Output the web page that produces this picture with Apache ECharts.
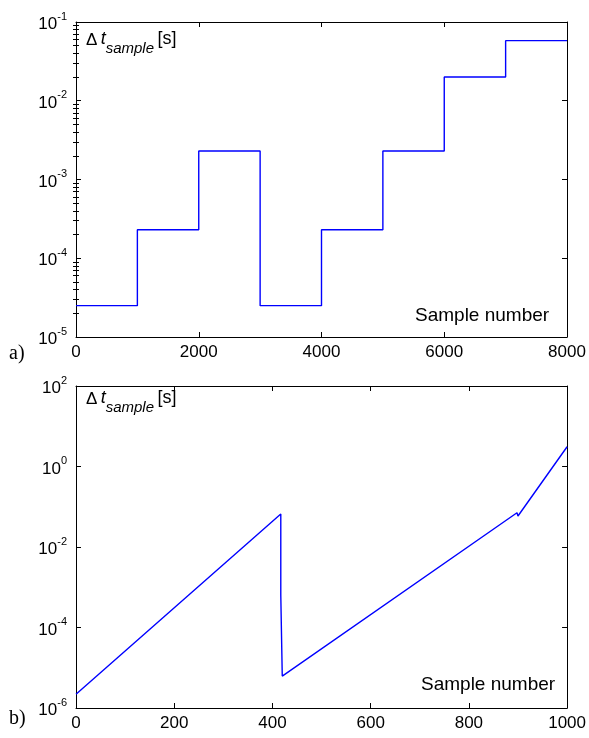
<!DOCTYPE html>
<html>
<head>
<meta charset="utf-8">
<script src="https://cdn.jsdelivr.net/npm/echarts@6/dist/echarts.min.js"></script>
<style>
  html, body { margin: 0; padding: 0; background: #fff; }
  #chart { width: 589px; height: 738px; }
</style>
</head>
<body>
<div id="chart"></div>
<script>
// Panel a) step schedule of the sampling interval
const stepSamples = [0, 1000, 2000, 3000, 4000, 5000, 6000, 7000, 8000];
const stepDt = [2.5e-5, 2.3e-4, 2.3e-3, 2.5e-5, 2.3e-4, 2.3e-3, 2.0e-2, 5.8e-2, 5.8e-2];

// Panel b) adaptive sampling interval
const adaptSamples = [0, 417, 417, 420, 420, 898, 900, 1000];
const adaptDt = [2.2e-6, 6.6e-2, 6.4e-4, 6.4e-4, 6.2e-6, 7.1e-2, 5.9e-2, 3.1];

// Axis ticks
const topDecades = [-5, -4, -3, -2];
const minorMultipliers = [2, 3, 4, 5, 6, 7, 8, 9];
const topYTicks = [1e-5, 1e-4, 1e-3, 1e-2, 1e-1];
const botYTicks = [1e-6, 1e-4, 1e-2, 1, 100];

const FONT = '"Liberation Sans", Arial, Helvetica, sans-serif';
const SERIF = '"Liberation Serif", "Times New Roman", serif';
const BLACK = '#000';

const minorTop = [];
topDecades.forEach(d => minorMultipliers.forEach(m => minorTop.push(+(m * Math.pow(10, d)).toPrecision(3))));

const expLabel = v => '{b|10}{s|' + Math.round(Math.log10(v)) + '}';
const expRich = {
  b: { fontSize: 17, fontFamily: FONT, color: BLACK, lineHeight: 22, verticalAlign: 'bottom' },
  s: { fontSize: 11, fontFamily: FONT, color: BLACK, lineHeight: 22, verticalAlign: 'top' }
};

function xAxes(grid, max, interval) {
  return [
    {
      gridIndex: grid, type: 'value', min: 0, max: max, interval: interval, position: 'bottom',
      axisLine: { show: true, onZero: false, lineStyle: { color: BLACK, width: 1 } },
      axisTick: { show: true, inside: true, length: 5, lineStyle: { color: BLACK } },
      axisLabel: { show: true, margin: 7, color: BLACK, fontSize: 17, fontFamily: FONT, formatter: v => String(v) },
      splitLine: { show: false }
    },
    {
      gridIndex: grid, type: 'value', min: 0, max: max, interval: interval, position: 'top',
      axisLine: { show: true, onZero: false, lineStyle: { color: BLACK, width: 1 } },
      axisTick: { show: true, inside: true, length: 5, lineStyle: { color: BLACK } },
      axisLabel: { show: false },
      splitLine: { show: false }
    }
  ];
}

function yAxes(grid, min, max, majors, minors) {
  const list = [
    {
      gridIndex: grid, type: 'log', logBase: 10, min: min, max: max, position: 'left',
      axisLine: { show: true, onZero: false, lineStyle: { color: BLACK, width: 1 } },
      axisTick: { show: true, inside: true, length: 5, customValues: majors, lineStyle: { color: BLACK } },
      axisLabel: { show: true, margin: 9, customValues: majors, formatter: expLabel, rich: expRich },
      splitLine: { show: false }
    },
    {
      gridIndex: grid, type: 'log', logBase: 10, min: min, max: max, position: 'right',
      axisLine: { show: true, onZero: false, lineStyle: { color: BLACK, width: 1 } },
      axisTick: { show: true, inside: true, length: 5, customValues: majors, lineStyle: { color: BLACK } },
      axisLabel: { show: false },
      splitLine: { show: false }
    }
  ];
  if (minors) {
    ['left', 'right'].forEach(pos => list.push({
      gridIndex: grid, type: 'log', logBase: 10, min: min, max: max, position: pos,
      axisLine: { show: false },
      axisTick: { show: true, inside: true, length: 3, customValues: minors, lineStyle: { color: BLACK } },
      axisLabel: { show: false },
      splitLine: { show: false }
    }));
  }
  return list;
}

const dtRich = {
  d: { fontSize: 17, fontFamily: FONT, color: BLACK, lineHeight: 26, verticalAlign: 'top', padding: [2, 0, 0, 0] },
  t: { fontSize: 18, fontFamily: FONT, fontStyle: 'italic', color: BLACK, lineHeight: 26, verticalAlign: 'top' },
  sub: { fontSize: 15, fontFamily: FONT, fontStyle: 'italic', color: BLACK, lineHeight: 26, verticalAlign: 'bottom' },
  u: { fontSize: 18, fontFamily: FONT, color: BLACK, lineHeight: 26, verticalAlign: 'top' }
};
const dtText = '{d|\u0394} {t|t}{sub|sample} {u|[s]}';

const chart = echarts.init(document.getElementById('chart'), null, { renderer: 'canvas' });

const yTop = yAxes(0, 1e-5, 1e-1, topYTicks, minorTop);
const yBot = yAxes(1, 1e-6, 1e2, botYTicks, null);

chart.setOption({
  animation: false,
  backgroundColor: '#fff',
  grid: [
    { left: 76, top: 22, width: 491, height: 315, containLabel: false },
    { left: 76, top: 386, width: 496, height: 322, containLabel: false }
  ],
  xAxis: xAxes(0, 8000, 2000).concat(xAxes(1, 1000, 200)),
  yAxis: yTop.concat(yBot),
  series: [
    {
      type: 'line', xAxisIndex: 0, yAxisIndex: 0, step: 'end', showSymbol: false,
      lineStyle: { color: '#0000ff', width: 1.4 },
      data: stepSamples.map((x, i) => [x, stepDt[i]])
    },
    {
      type: 'line', xAxisIndex: 2, yAxisIndex: yTop.length, showSymbol: false,
      lineStyle: { color: '#0000ff', width: 1.4 },
      data: adaptSamples.map((x, i) => [x, adaptDt[i]])
    }
  ],
  graphic: [
    { type: 'text', left: 86, top: 30, style: { text: dtText, rich: dtRich } },
    { type: 'text', left: 86, top: 389, style: { text: dtText, rich: dtRich } },
    { type: 'text', left: 415, top: 306, style: { text: 'Sample number', font: '19px ' + FONT, fill: BLACK } },
    { type: 'text', left: 421, top: 675, style: { text: 'Sample number', font: '19px ' + FONT, fill: BLACK } },
    { type: 'text', left: 9, top: 344, style: { text: 'a)', font: '20px ' + SERIF, fill: BLACK } },
    { type: 'text', left: 9, top: 709, style: { text: 'b)', font: '20px ' + SERIF, fill: BLACK } }
  ]
});
</script>
</body>
</html>
